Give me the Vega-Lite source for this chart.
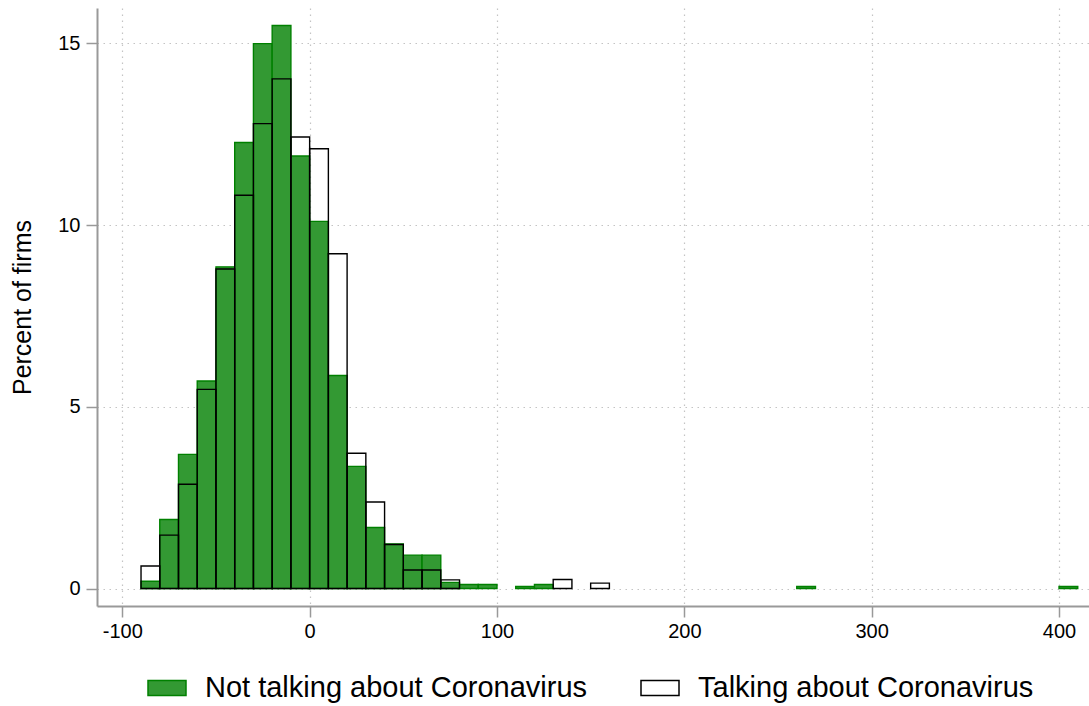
{
  "$schema": "https://vega.github.io/schema/vega-lite/v6.json",
  "width": 992,
  "height": 598,
  "autosize": {"type": "none"},
  "padding": {"left": 97, "top": 8, "right": 0, "bottom": 100},
  "background": "white",
  "config": {
    "view": {"stroke": null},
    "font": "Liberation Sans",
    "axis": {
      "labelFont": "Liberation Sans",
      "titleFont": "Liberation Sans",
      "labelColor": "black",
      "titleColor": "black",
      "labelFontSize": 20,
      "titleFontWeight": "normal",
      "domainColor": "#999999",
      "domainWidth": 2,
      "tickColor": "#999999",
      "tickWidth": 1.5,
      "tickSize": 11,
      "gridColor": "#c4c4c4",
      "gridDash": [1.5, 4.5],
      "gridWidth": 1.2
    }
  },
  "data": {
    "values": [
      {"start": -90, "end": -80, "group": "Not talking about Coronavirus", "pct": 0.20},
      {"start": -80, "end": -70, "group": "Not talking about Coronavirus", "pct": 1.90},
      {"start": -70, "end": -60, "group": "Not talking about Coronavirus", "pct": 3.69},
      {"start": -60, "end": -50, "group": "Not talking about Coronavirus", "pct": 5.71},
      {"start": -50, "end": -40, "group": "Not talking about Coronavirus", "pct": 8.85},
      {"start": -40, "end": -30, "group": "Not talking about Coronavirus", "pct": 12.27},
      {"start": -30, "end": -20, "group": "Not talking about Coronavirus", "pct": 14.99},
      {"start": -20, "end": -10, "group": "Not talking about Coronavirus", "pct": 15.49},
      {"start": -10, "end": 0, "group": "Not talking about Coronavirus", "pct": 11.90},
      {"start": 0, "end": 10, "group": "Not talking about Coronavirus", "pct": 10.10},
      {"start": 10, "end": 20, "group": "Not talking about Coronavirus", "pct": 5.86},
      {"start": 20, "end": 30, "group": "Not talking about Coronavirus", "pct": 3.36},
      {"start": 30, "end": 40, "group": "Not talking about Coronavirus", "pct": 1.68},
      {"start": 40, "end": 50, "group": "Not talking about Coronavirus", "pct": 1.23},
      {"start": 50, "end": 60, "group": "Not talking about Coronavirus", "pct": 0.92},
      {"start": 60, "end": 70, "group": "Not talking about Coronavirus", "pct": 0.92},
      {"start": 70, "end": 80, "group": "Not talking about Coronavirus", "pct": 0.17},
      {"start": 80, "end": 90, "group": "Not talking about Coronavirus", "pct": 0.11},
      {"start": 90, "end": 100, "group": "Not talking about Coronavirus", "pct": 0.11},
      {"start": 110, "end": 120, "group": "Not talking about Coronavirus", "pct": 0.055},
      {"start": 120, "end": 130, "group": "Not talking about Coronavirus", "pct": 0.11},
      {"start": 260, "end": 270, "group": "Not talking about Coronavirus", "pct": 0.055},
      {"start": 400, "end": 410, "group": "Not talking about Coronavirus", "pct": 0.055},
      {"start": -90, "end": -80, "group": "Talking about Coronavirus", "pct": 0.62},
      {"start": -80, "end": -70, "group": "Talking about Coronavirus", "pct": 1.47},
      {"start": -70, "end": -60, "group": "Talking about Coronavirus", "pct": 2.87},
      {"start": -60, "end": -50, "group": "Talking about Coronavirus", "pct": 5.48},
      {"start": -50, "end": -40, "group": "Talking about Coronavirus", "pct": 8.79},
      {"start": -40, "end": -30, "group": "Talking about Coronavirus", "pct": 10.82},
      {"start": -30, "end": -20, "group": "Talking about Coronavirus", "pct": 12.79},
      {"start": -20, "end": -10, "group": "Talking about Coronavirus", "pct": 14.02},
      {"start": -10, "end": 0, "group": "Talking about Coronavirus", "pct": 12.42},
      {"start": 0, "end": 10, "group": "Talking about Coronavirus", "pct": 12.10},
      {"start": 10, "end": 20, "group": "Talking about Coronavirus", "pct": 9.21},
      {"start": 20, "end": 30, "group": "Talking about Coronavirus", "pct": 3.72},
      {"start": 30, "end": 40, "group": "Talking about Coronavirus", "pct": 2.38},
      {"start": 40, "end": 50, "group": "Talking about Coronavirus", "pct": 1.21},
      {"start": 50, "end": 60, "group": "Talking about Coronavirus", "pct": 0.51},
      {"start": 60, "end": 70, "group": "Talking about Coronavirus", "pct": 0.51},
      {"start": 70, "end": 80, "group": "Talking about Coronavirus", "pct": 0.24},
      {"start": 130, "end": 140, "group": "Talking about Coronavirus", "pct": 0.25},
      {"start": 150, "end": 160, "group": "Talking about Coronavirus", "pct": 0.15}
    ]
  },
  "mark": {"type": "bar", "strokeWidth": 1.4, "clip": false},
  "encoding": {
    "x": {
      "field": "start",
      "type": "quantitative",
      "scale": {"domain": [-113.5, 416], "nice": false, "zero": false},
      "axis": {
        "title": null,
        "values": [-100, 0, 100, 200, 300, 400],
        "labelExpr": "'' + datum.value",
        "labelPadding": 4,
        "grid": true
      }
    },
    "x2": {"field": "end"},
    "y": {
      "field": "pct",
      "type": "quantitative",
      "stack": null,
      "scale": {"domain": [-0.48, 15.97], "nice": false, "zero": false},
      "axis": {
        "title": "Percent of firms",
        "titleFontSize": 25,
        "titlePadding": 22,
        "values": [0, 5, 10, 15],
        "labelPadding": 6,
        "grid": true
      }
    },
    "y2": {"datum": 0},
    "fill": {
      "field": "group",
      "type": "nominal",
      "scale": {
        "domain": ["Not talking about Coronavirus", "Talking about Coronavirus"],
        "range": ["#339933", "transparent"]
      },
      "legend": {
        "title": null,
        "orient": "none",
        "legendX": 50,
        "legendY": 660,
        "direction": "horizontal",
        "labelFontSize": 29,
        "labelFont": "Liberation Sans",
        "labelColor": "black",
        "labelLimit": 0,
        "symbolType": "M-1,-0.395H1V0.395H-1Z",
        "symbolSize": 1444,
        "symbolStrokeWidth": 1.5,
        "labelOffset": 18,
        "columnPadding": 50,
        "padding": 0
      }
    },
    "stroke": {
      "field": "group",
      "type": "nominal",
      "scale": {
        "domain": ["Not talking about Coronavirus", "Talking about Coronavirus"],
        "range": ["#008000", "#000000"]
      },
      "legend": {
        "title": null,
        "orient": "none",
        "legendX": 50,
        "legendY": 660,
        "direction": "horizontal",
        "labelFontSize": 29,
        "labelFont": "Liberation Sans",
        "labelColor": "black",
        "labelLimit": 0,
        "symbolType": "M-1,-0.395H1V0.395H-1Z",
        "symbolSize": 1444,
        "symbolStrokeWidth": 1.5,
        "labelOffset": 18,
        "columnPadding": 50,
        "padding": 0
      }
    }
  }
}
